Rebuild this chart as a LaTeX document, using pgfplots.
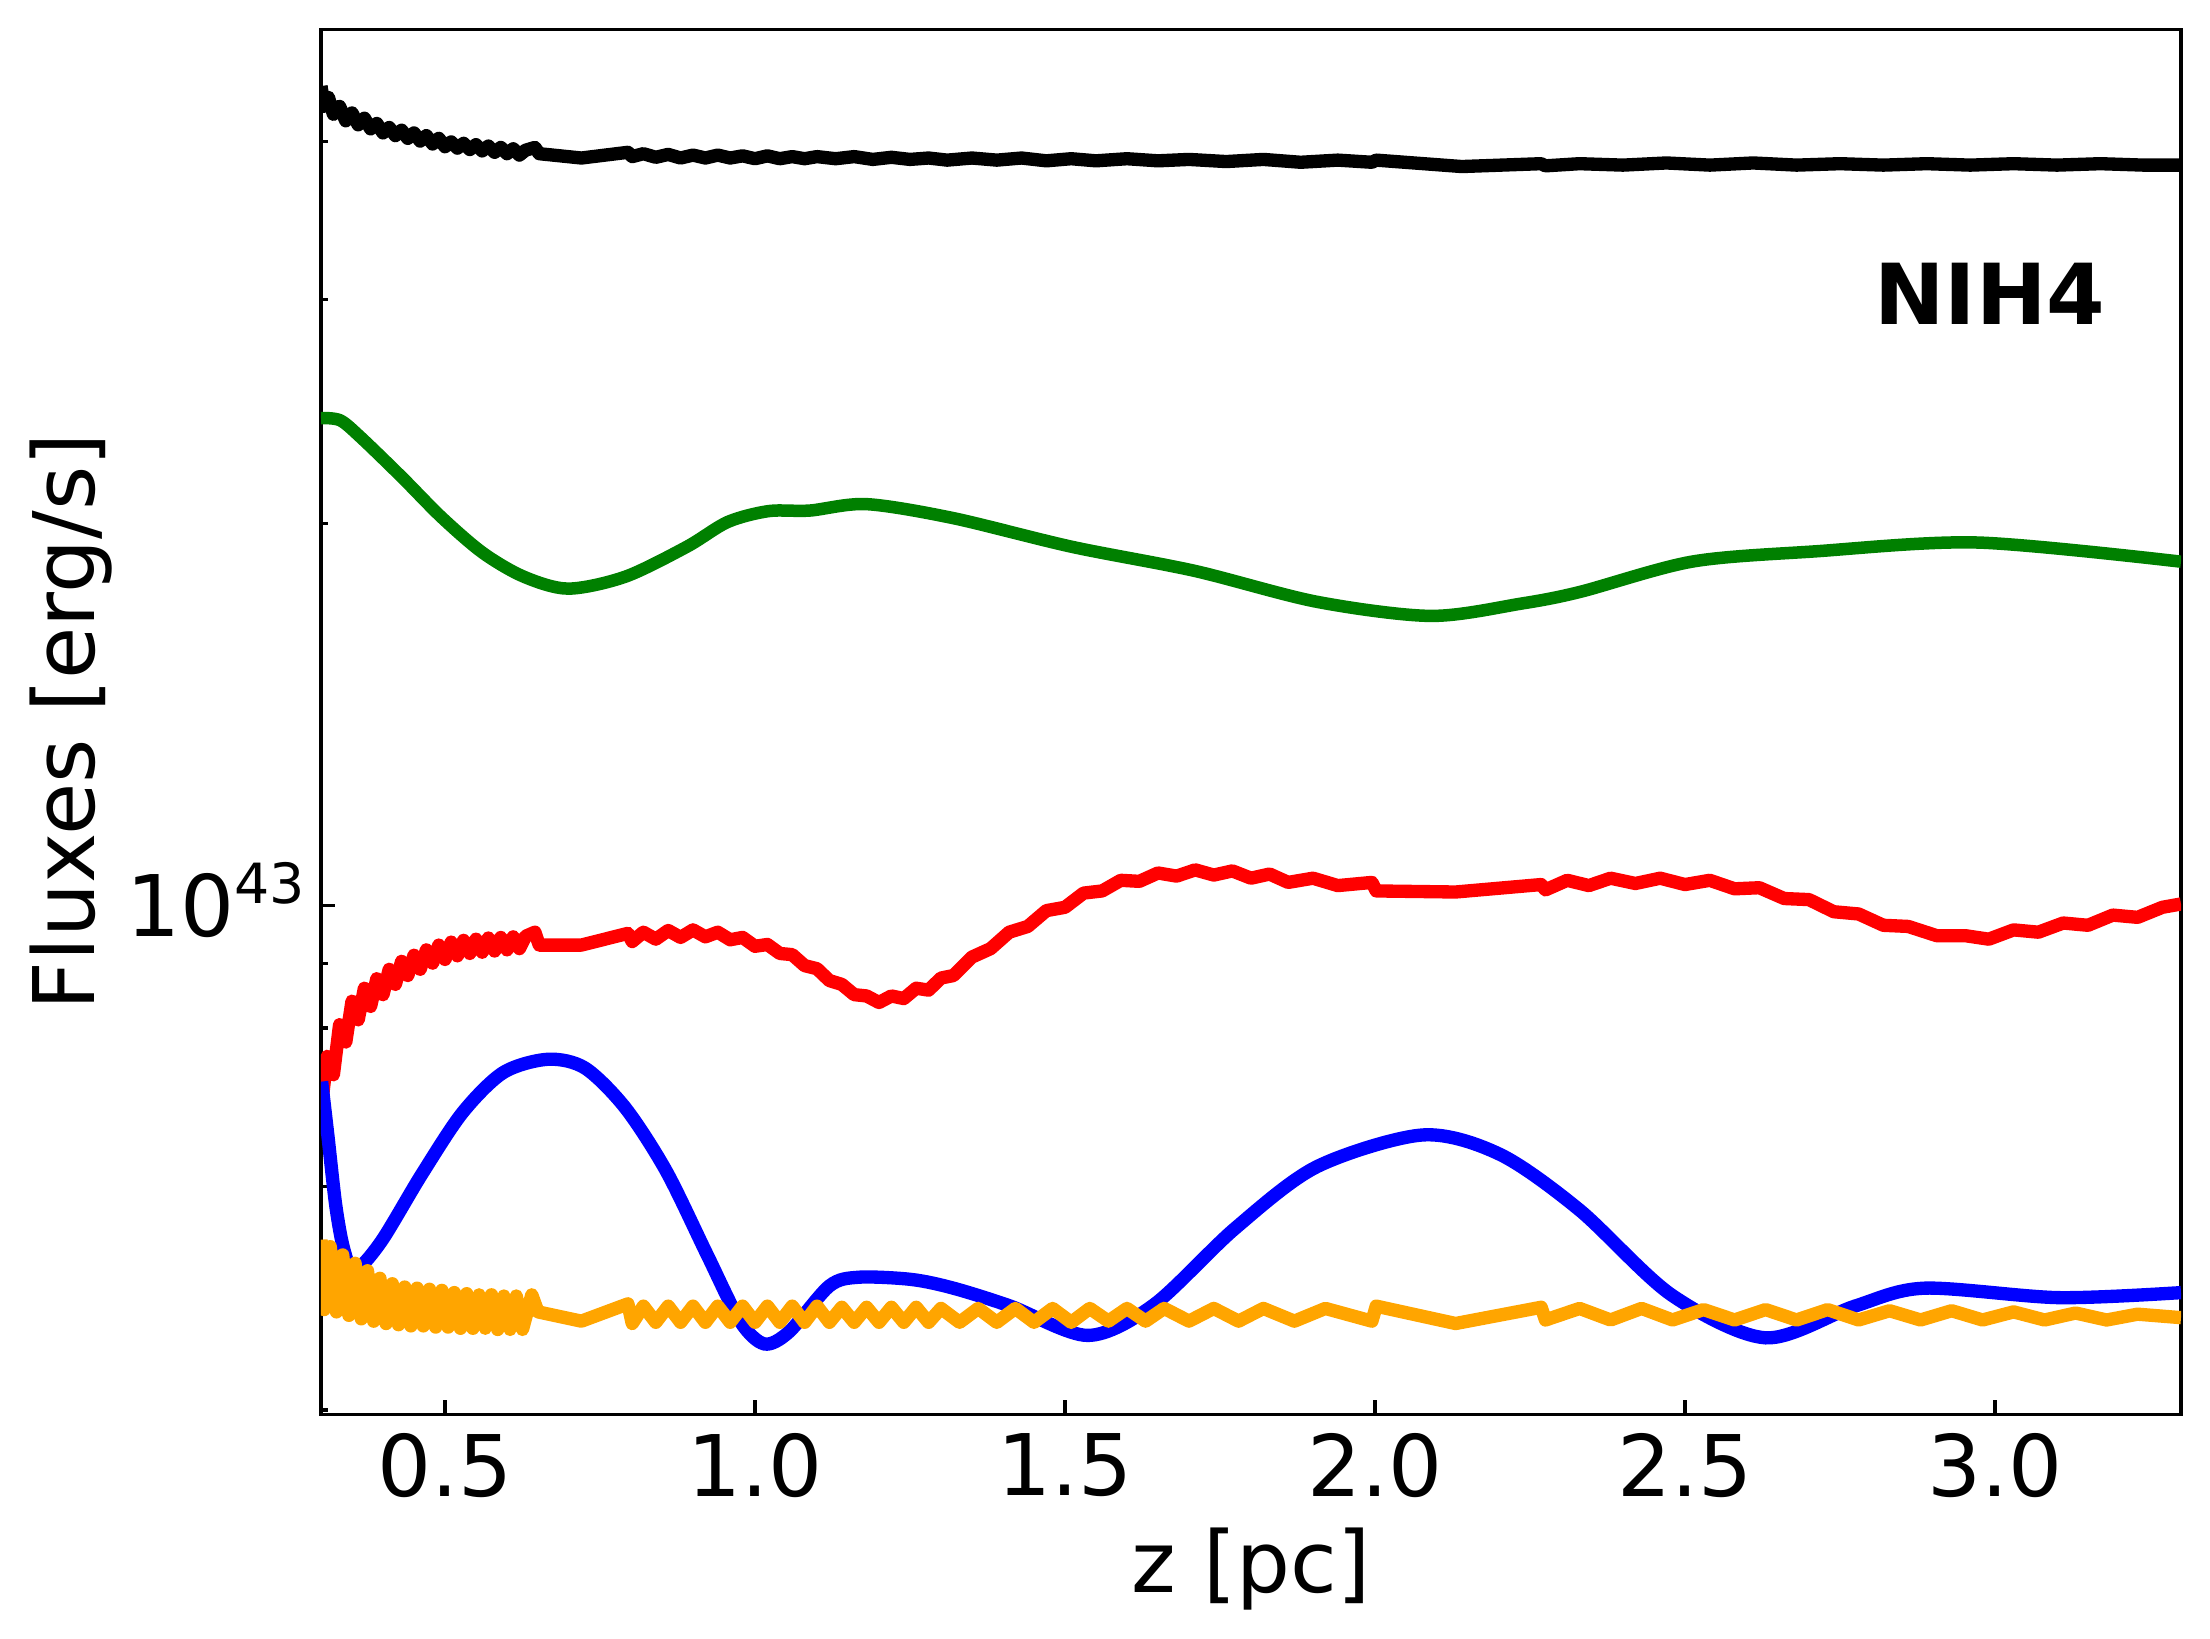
\documentclass[border=0pt]{standalone}
\usepackage{fontspec}
\setmainfont{DejaVu Sans}
\usepackage{pgfplots}
\pgfplotsset{compat=1.18}
\definecolor{mgreen}{RGB}{0,128,0}
\definecolor{morange}{RGB}{255,165,0}
\begin{document}
\begin{tikzpicture}
\begin{axis}[
  name=ax,
  scale only axis=true,
  width=446.4pt, height=332.4pt,
  xmin=0.3, xmax=3.3,
  ymode=log, ymin=3.97e42, ymax=4.9e43,
  axis line style={line width=0.8pt},
  every tick/.style={black, line width=0.75pt},
  major tick length=3.4pt, minor tick length=1.8pt,
  tick align=inside,
  xtick pos=bottom, ytick pos=left,
  xtick={0.5,1.0,1.5,2.0,2.5,3.0},
  xticklabels={0.5,1.0,1.5,2.0,2.5,3.0},
  ytick={1e43},
  yticklabels={{10\raisebox{7.8pt}{\fontsize{13.3}{14}\selectfont 43}}},
  minor ytick={4e42,5e42,6e42,7e42,8e42,9e42,2e43,3e43,4e43},
  /pgf/number format/assume math mode=true,
  tick label style={font=\fontsize{20.4}{24}\selectfont},
  xticklabel style={inner sep=0pt, anchor=north, yshift=-4.3pt},
  yticklabel style={inner sep=0pt, anchor=east, xshift=-3.6pt, yshift=1.2pt},
  label style={font=\fontsize{20.4}{24}\selectfont},
  xlabel={z [pc]},
  ylabel={Fluxes [erg/s]},
  xlabel style={at={(axis description cs:0.5,-0.0816)}, anchor=north, inner sep=0pt},
  ylabel style={at={(axis description cs:-0.157,0.5)}, anchor=north, inner sep=0pt},
  clip=true,
]
% black
\addplot[black, line width=3.2pt, line join=round] coordinates {
(0.300,4.42e43)(0.305,4.26e43)(0.312,4.33e43)(0.320,4.20e43)(0.330,4.26e43)(0.340,4.15e43)
(0.350,4.21e43)(0.360,4.12e43)(0.370,4.17e43)(0.380,4.09e43)(0.390,4.13e43)(0.400,4.06e43)
(0.410,4.10e43)(0.420,4.04e43)(0.430,4.08e43)(0.440,4.02e43)(0.450,4.06e43)(0.460,4.00e43)
(0.470,4.04e43)(0.480,3.98e43)(0.490,4.02e43)(0.500,3.96e43)(0.510,3.995e43)(0.520,3.95e43)
(0.530,3.985e43)(0.540,3.94e43)(0.550,3.975e43)(0.560,3.93e43)(0.570,3.965e43)(0.580,3.92e43)
(0.590,3.955e43)(0.600,3.91e43)(0.610,3.945e43)(0.620,3.90e43)(0.630,3.935e43)(0.645,3.955e43)
(0.652,3.91e43)(0.720,3.88e43)(0.795,3.92e43)(0.802,3.89e43)(0.820,3.91e43)(0.840,3.885e43)
(0.860,3.905e43)(0.880,3.88e43)(0.900,3.90e43)(0.920,3.88e43)(0.940,3.90e43)(0.960,3.88e43)
(0.980,3.895e43)(1.000,3.875e43)(1.020,3.895e43)(1.040,3.875e43)(1.060,3.89e43)(1.080,3.875e43)
(1.100,3.89e43)(1.130,3.875e43)(1.160,3.89e43)(1.190,3.87e43)(1.220,3.885e43)(1.250,3.87e43)
(1.280,3.88e43)(1.310,3.865e43)(1.350,3.88e43)(1.390,3.865e43)(1.430,3.88e43)(1.470,3.86e43)
(1.510,3.875e43)(1.550,3.86e43)(1.600,3.875e43)(1.650,3.86e43)(1.700,3.87e43)(1.760,3.855e43)
(1.820,3.87e43)(1.880,3.85e43)(1.940,3.865e43)(1.995,3.85e43)(2.002,3.865e43)(2.140,3.82e43)
(2.268,3.84e43)(2.275,3.825e43)(2.330,3.84e43)(2.400,3.83e43)(2.470,3.845e43)(2.540,3.83e43)
(2.610,3.845e43)(2.680,3.83e43)(2.750,3.84e43)(2.820,3.83e43)(2.890,3.84e43)(2.960,3.83e43)
(3.030,3.84e43)(3.100,3.83e43)(3.170,3.84e43)(3.240,3.83e43)(3.300,3.83e43)
};
% green
\addplot[mgreen, line width=3.0pt, smooth, tension=0.5] coordinates {
(0.300,2.42e43)(0.331,2.41e43)(0.364,2.337e43)(0.430,2.175e43)(0.495,2.02e43)(0.561,1.895e43)
(0.627,1.815e43)(0.699,1.776e43)(0.791,1.815e43)(0.890,1.916e43)(0.956,2.004e43)(1.022,2.044e43)
(1.088,2.046e43)(1.180,2.07e43)(1.320,2.018e43)(1.511,1.916e43)(1.709,1.834e43)(1.906,1.734e43)
(2.090,1.69e43)(2.235,1.728e43)(2.330,1.765e43)(2.511,1.865e43)(2.709,1.90e43)(2.972,1.931e43)
(3.300,1.865e43)
};
% red
\addplot[red, line width=3.2pt, line join=round] coordinates {
(0.300,0.690e43)(0.310,0.760e43)(0.320,0.735e43)(0.330,0.805e43)(0.340,0.780e43)(0.350,0.840e43)
(0.360,0.812e43)(0.370,0.860e43)(0.380,0.832e43)(0.390,0.875e43)(0.400,0.850e43)(0.410,0.890e43)
(0.420,0.866e43)(0.430,0.903e43)(0.440,0.880e43)(0.450,0.913e43)(0.460,0.890e43)(0.470,0.922e43)
(0.480,0.900e43)(0.490,0.930e43)(0.500,0.906e43)(0.510,0.935e43)(0.520,0.912e43)(0.530,0.938e43)
(0.540,0.916e43)(0.550,0.940e43)(0.560,0.918e43)(0.570,0.942e43)(0.580,0.920e43)(0.590,0.943e43)
(0.600,0.922e43)(0.610,0.944e43)(0.620,0.924e43)(0.630,0.945e43)(0.645,0.952e43)(0.652,0.930e43)
(0.720,0.930e43)(0.795,0.950e43)(0.802,0.936e43)(0.820,0.952e43)(0.840,0.940e43)(0.860,0.955e43)
(0.880,0.943e43)(0.900,0.956e43)(0.920,0.944e43)(0.940,0.952e43)(0.960,0.939e43)(0.980,0.943e43)
(1.000,0.928e43)(1.020,0.931e43)(1.040,0.916e43)(1.060,0.914e43)(1.080,0.896e43)(1.100,0.891e43)
(1.120,0.872e43)(1.140,0.866e43)(1.160,0.850e43)(1.180,0.848e43)(1.200,0.838e43)(1.220,0.848e43)
(1.240,0.844e43)(1.260,0.860e43)(1.280,0.857e43)(1.300,0.876e43)(1.320,0.880e43)(1.350,0.910e43)
(1.380,0.924e43)(1.410,0.952e43)(1.440,0.962e43)(1.470,0.990e43)(1.500,0.996e43)(1.530,1.022e43)
(1.560,1.026e43)(1.590,1.046e43)(1.620,1.044e43)(1.650,1.060e43)(1.680,1.054e43)(1.710,1.066e43)
(1.740,1.056e43)(1.770,1.064e43)(1.800,1.050e43)(1.830,1.058e43)(1.860,1.042e43)(1.900,1.050e43)
(1.940,1.036e43)(1.995,1.042e43)(2.002,1.026e43)(2.130,1.024e43)(2.268,1.038e43)(2.275,1.028e43)
(2.310,1.046e43)(2.345,1.036e43)(2.380,1.050e43)(2.420,1.040e43)(2.460,1.050e43)(2.500,1.038e43)
(2.540,1.046e43)(2.580,1.030e43)(2.620,1.032e43)(2.660,1.012e43)(2.700,1.010e43)(2.740,0.988e43)
(2.780,0.984e43)(2.820,0.964e43)(2.860,0.962e43)(2.906,0.946e43)(2.952,0.946e43)(2.990,0.940e43)
(3.030,0.956e43)(3.070,0.952e43)(3.110,0.968e43)(3.150,0.964e43)(3.190,0.982e43)(3.230,0.978e43)
(3.270,0.996e43)(3.300,1.002e43)
};
% blue
\addplot[blue, line width=3.2pt, smooth, tension=0.5] coordinates {
(0.301,0.726e43)(0.311,0.659e43)(0.324,0.579e43)(0.337,0.535e43)(0.354,0.515e43)(0.397,0.543e43)
(0.462,0.613e43)(0.528,0.686e43)(0.594,0.738e43)(0.666,0.756e43)(0.726,0.744e43)(0.791,0.692e43)
(0.857,0.617e43)(0.923,0.530e43)(0.976,0.470e43)(1.015,0.451e43)(1.055,0.461e43)(1.120,0.501e43)
(1.167,0.509e43)(1.252,0.507e43)(1.320,0.499e43)(1.412,0.483e43)(1.537,0.458e43)(1.643,0.484e43)
(1.774,0.556e43)(1.906,0.622e43)(2.077,0.659e43)(2.202,0.636e43)(2.330,0.575e43)(2.478,0.493e43)
(2.630,0.456e43)(2.774,0.483e43)(2.886,0.499e43)(3.103,0.4905e43)(3.300,0.495e43)
};
% orange
\addplot[morange, line width=3.2pt, line join=round] coordinates {
(0.300,0.545e43)(0.305,0.480e43)(0.315,0.538e43)(0.325,0.478e43)(0.335,0.530e43)(0.345,0.475e43)
(0.355,0.522e43)(0.365,0.472e43)(0.375,0.515e43)(0.385,0.470e43)(0.395,0.508e43)(0.405,0.468e43)
(0.415,0.503e43)(0.425,0.467e43)(0.435,0.500e43)(0.445,0.466e43)(0.455,0.499e43)(0.465,0.466e43)
(0.475,0.498e43)(0.485,0.465e43)(0.495,0.497e43)(0.505,0.465e43)(0.515,0.495e43)(0.525,0.464e43)
(0.535,0.494e43)(0.545,0.464e43)(0.555,0.493e43)(0.565,0.464e43)(0.575,0.493e43)(0.585,0.463e43)
(0.595,0.492e43)(0.605,0.463e43)(0.615,0.492e43)(0.625,0.463e43)(0.640,0.493e43)(0.650,0.478e43)
(0.720,0.470e43)(0.795,0.485e43)(0.802,0.468e43)(0.820,0.483e43)(0.840,0.469e43)(0.860,0.483e43)
(0.880,0.469e43)(0.900,0.483e43)(0.920,0.469e43)(0.940,0.483e43)(0.960,0.469e43)(0.980,0.483e43)
(1.000,0.469e43)(1.020,0.483e43)(1.040,0.469e43)(1.060,0.483e43)(1.080,0.469e43)(1.100,0.483e43)
(1.120,0.469e43)(1.140,0.482e43)(1.160,0.469e43)(1.180,0.482e43)(1.200,0.469e43)(1.220,0.482e43)
(1.240,0.469e43)(1.260,0.482e43)(1.280,0.469e43)(1.300,0.481e43)(1.330,0.469e43)(1.360,0.481e43)
(1.390,0.469e43)(1.420,0.481e43)(1.450,0.469e43)(1.480,0.481e43)(1.510,0.469e43)(1.540,0.481e43)
(1.570,0.470e43)(1.600,0.481e43)(1.630,0.470e43)(1.660,0.481e43)(1.700,0.470e43)(1.740,0.481e43)
(1.780,0.470e43)(1.820,0.481e43)(1.870,0.470e43)(1.920,0.481e43)(1.995,0.470e43)(2.002,0.483e43)
(2.130,0.468e43)(2.268,0.482e43)(2.275,0.471e43)(2.330,0.481e43)(2.380,0.471e43)(2.430,0.481e43)
(2.480,0.471e43)(2.530,0.480e43)(2.580,0.471e43)(2.630,0.480e43)(2.680,0.471e43)(2.730,0.480e43)
(2.780,0.471e43)(2.830,0.479e43)(2.880,0.471e43)(2.930,0.479e43)(2.980,0.471e43)(3.030,0.478e43)
(3.080,0.471e43)(3.130,0.477e43)(3.180,0.471e43)(3.230,0.476e43)(3.300,0.473e43)
};
\node[anchor=base east, inner sep=0pt, font={\fontsize{20.2}{24}\selectfont\bfseries}]
  at (axis description cs:0.9597,0.787) {NIH4};
\end{axis}
\pgfresetboundingbox
\path ([shift={(-77.04pt,-53.76pt)}]ax.south west) rectangle ([shift={(6.96pt,7.2pt)}]ax.north east);
\end{tikzpicture}
\end{document}
